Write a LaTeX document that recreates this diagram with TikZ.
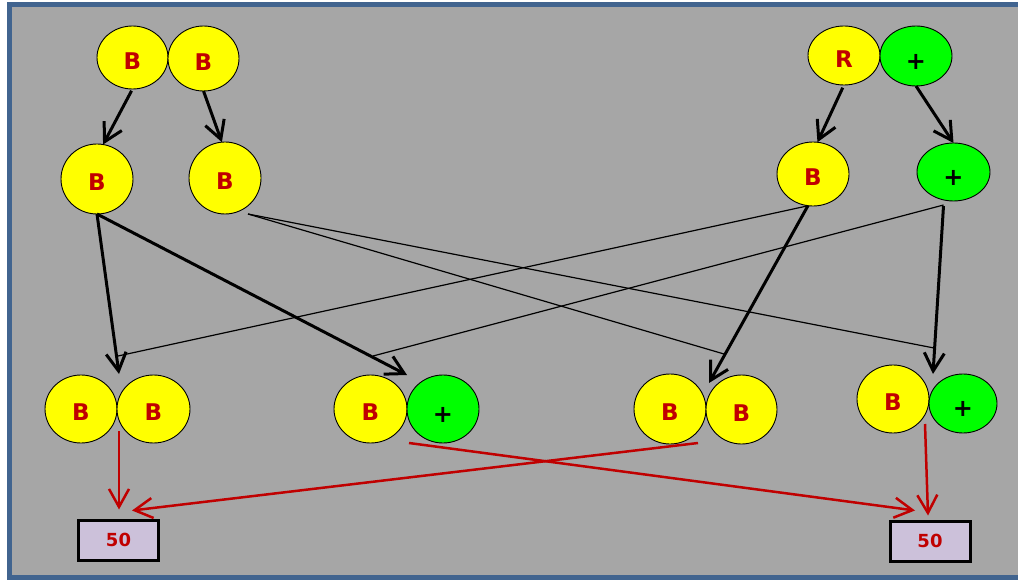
\documentclass[tikz,border=0pt]{standalone}
\usepackage{fontspec}
\setmainfont{DejaVu Sans}
\usetikzlibrary{arrows.meta,shapes.geometric,calc}
\definecolor{bg}{HTML}{A6A6A6}
\definecolor{frameblue}{HTML}{41648F}
\definecolor{txtred}{HTML}{C00000}
\definecolor{ballY}{HTML}{FFFF00}
\definecolor{ballG}{HTML}{00FF00}
\definecolor{boxfill}{HTML}{CCC1DA}
\begin{document}
\begin{tikzpicture}[x=1pt,y=-1pt,
  ball/.style={ellipse, draw=black, line width=0.9pt, inner sep=0pt, outer sep=0pt},
  sz/.style 2 args={minimum width=#1, minimum height=#2},
  yb/.style={ball, fill=ballY, text=txtred, font=\bfseries\fontsize{23}{23}\selectfont, text height=23.8pt, text depth=0pt},
  gb/.style={ball, fill=ballG, text=black, font=\bfseries\fontsize{24}{24}\selectfont, text height=26.2pt, text depth=0pt},
  numbox/.style={rectangle, draw=black, line width=3pt, fill=boxfill, text=txtred, inner sep=0pt, font=\bfseries\fontsize{18}{18}\selectfont, minimum width=80pt, minimum height=40pt},
  blk/.style={draw=black, line width=3pt, -{Straight Barb[length=18pt,width=20pt]}},
  fine/.style={draw=black, line width=1.2pt},
  redarr/.style={draw=txtred, line width=2.5pt, -{Straight Barb[length=18pt,width=20pt]}}
]
\clip (0,0) rectangle (1018,580);
\fill[white] (0,0) rectangle (1018,580);
\draw[frameblue, line width=5pt, fill=bg] (9.5,4.5) rectangle (1040,577.5);

% top row
\node[yb, sz={71pt}{63pt}] (a1) at (132.5,57.5) {B};
\node[yb, sz={71pt}{65pt}] (a2) at (203.5,58.5) {B};
\node[yb, sz={72pt}{59pt}] (c1) at (844,55.5) {R};
\node[gb, sz={72pt}{60pt}] (c2) at (916,56) {+};
% second row
\node[yb, sz={72pt}{70pt}] (b1) at (97,179) {B};
\node[yb, sz={72pt}{72pt}] (b2) at (225,178) {B};
\node[yb, sz={72pt}{64pt}] (d1) at (813,174) {B};
\node[gb, sz={73pt}{58pt}] (d2) at (953.5,172) {+};
% third row
\node[yb, sz={72pt}{68pt}] (e1) at (81,409) {B};
\node[yb, sz={73pt}{68pt}] (e2) at (153.5,409) {B};
\node[yb, sz={73pt}{68pt}] (f1) at (370.5,409) {B};
\node[gb, sz={72pt}{68pt}] (f2) at (443,409) {+};
\node[yb, sz={72pt}{70pt}] (g1) at (670,409) {B};
\node[yb, sz={71pt}{69pt}] (g2) at (741.5,409.5) {B};
\node[yb, sz={72pt}{68pt}] (h1) at (893,399) {B};
\node[gb, sz={68pt}{59pt}] (h2) at (963,403.5) {+};
% result boxes
\node[numbox] (k1) at (118.5,540) {50};
\node[numbox] (k2) at (930,541) {50};

% arrow targets above the pairs
\coordinate (tE) at (119,374);
\coordinate (tF) at (407,375);
\coordinate (tG) at (709,383);
\coordinate (tH) at (933,374);
% junction points of the thin lines
\coordinate (jE) at (118,356);
\coordinate (jF) at (373,356);
\coordinate (jG) at (724,354);
\coordinate (jH) at (934,348);

% thick black arrows
\draw[blk, shorten <=2pt] (a1.south) -- (b1.80);
\draw[blk] (a2.south) -- (b2.95);
\draw[blk, shorten <=3pt] (c1.south) -- (d1.82);
\draw[blk] (c2.south) -- (d2.north);
\draw[blk] (b1.south) -- (tE);
\draw[blk] (b1.south) -- (tF);
\draw[blk] (d1.-99) -- (tG);
\draw[blk, shorten <=6pt] (d2.-109) -- (tH);

% thin lines
\draw[fine] ($(b2)+(23,36)$) -- (jH);
\draw[fine] ($(b2)+(23,36)$) -- (jG);
\draw[fine] ($(d1)+(-6,32)$) -- (jE);
\draw[fine] ($(d2)+(-10,33)$) -- (jF);

% red arrows
\draw[redarr] ($(e2)+(-34.5,22)$) -- ($(k1.north)+(0.5,-9)$);
\draw[redarr] ($(g1)+(28,34)$) -- ($(k1.north)+(13.5,-8)$);
\draw[redarr] ($(f2)+(-34,34)$) -- ($(k2.north)+(-15,-9)$);
\draw[redarr] ($(h1)+(32,25)$) -- ($(k2.north)+(-2,-4)$);
\end{tikzpicture}
\end{document}
